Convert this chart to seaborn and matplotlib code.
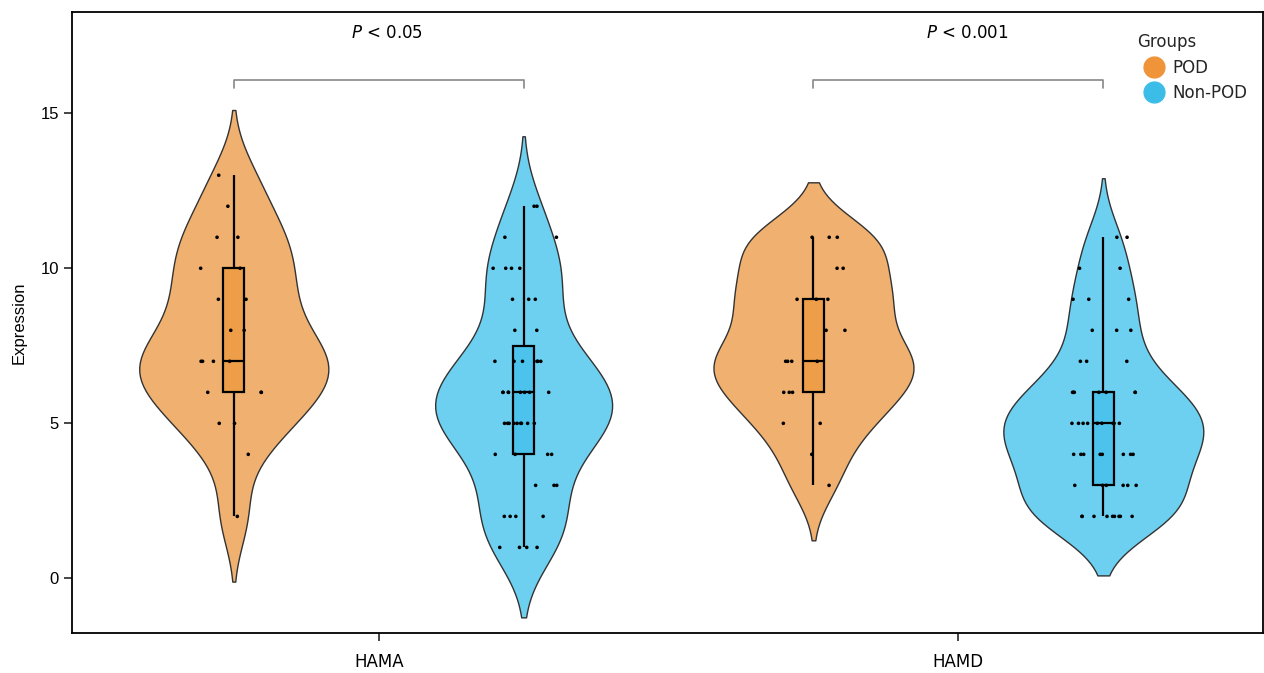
import numpy as np
import pandas as pd
import seaborn as sns
import matplotlib.pyplot as plt
from matplotlib.lines import Line2D

hama_pod_levels = [2, 4, 5, 6, 7, 8, 9, 10, 11, 12, 13]
hama_pod_counts = [1, 1, 2, 3, 4, 2, 2, 2, 2, 1, 1]
hama_non_levels = [1, 2, 3, 4, 5, 6, 7, 8, 9, 10, 11, 12]
hama_non_counts = [4, 4, 3, 4, 9, 8, 6, 2, 3, 4, 2, 2]
hamd_pod_levels = [3, 4, 5, 6, 7, 8, 9, 10, 11]
hamd_pod_counts = [1, 1, 2, 3, 4, 2, 3, 2, 3]
hamd_non_levels = [2, 3, 4, 5, 6, 7, 8, 9, 10, 11]
hamd_non_counts = [9, 6, 8, 10, 7, 3, 3, 3, 2, 2]

scales = ["HAMA", "HAMD"]
groups = ["POD", "Non-POD"]
p_labels = ["< 0.05", "< 0.001"]

violin_colors = {"POD": "#F0B06F", "Non-POD": "#6DD0F0"}
box_colors = {"POD": "#EE9E48", "Non-POD": "#4CC3EC"}
legend_colors = ["#F0943A", "#3BBDE8"]

# build long table
rows = []
series = {
    ("HAMA", "POD"): (hama_pod_levels, hama_pod_counts),
    ("HAMA", "Non-POD"): (hama_non_levels, hama_non_counts),
    ("HAMD", "POD"): (hamd_pod_levels, hamd_pod_counts),
    ("HAMD", "Non-POD"): (hamd_non_levels, hamd_non_counts),
}
for (scale, grp), (lv, ct) in series.items():
    vals = np.repeat(lv, ct)
    pos = scales.index(scale) + (-0.25 if grp == "POD" else 0.25)
    for v in vals:
        rows.append({"scale": scale, "Groups": grp, "pos": pos, "Expression": float(v)})
df = pd.DataFrame(rows)

sns.set_style("white")
fig = plt.figure(figsize=(12.64, 6.73), dpi=100)
ax = fig.add_axes([0.057, 0.059, 0.942, 0.923])

sns.violinplot(data=df, x="pos", y="Expression", hue="Groups", hue_order=groups,
               palette=violin_colors, native_scale=True, dodge=False, width=0.69,
               bw_method=0.37, cut=2.05, inner=None, linecolor="#333333", linewidth=1,
               saturation=1, legend=False, ax=ax)
sns.boxplot(data=df, x="pos", y="Expression", hue="Groups", hue_order=groups,
            palette=box_colors, native_scale=True, dodge=False, width=0.072,
            whis=(0, 100), showfliers=False, showcaps=False, linecolor="black",
            linewidth=1.6, saturation=1, legend=False, ax=ax)
np.random.seed(3)
sns.stripplot(data=df, x="pos", y="Expression", hue="Groups", hue_order=groups,
              palette={"POD": "black", "Non-POD": "black"}, native_scale=True,
              dodge=False, jitter=0.12, size=2.6, linewidth=0, legend=False, ax=ax)

ax.set_xlim(-0.529, 1.525)
ax.set_ylim(-1.77, 18.26)
ax.set_xticks([0, 1])
ax.set_xticklabels(scales, fontsize=12, family="DejaVu Sans", color="black")
ax.set_yticks([0, 5, 10, 15])
ax.tick_params(axis="y", labelsize=12, length=6, width=1.2, direction="out",
               left=True, labelcolor="black")
ax.tick_params(axis="x", length=6, width=1.2, direction="out", bottom=True, pad=8)
for lab in ax.get_yticklabels():
    lab.set_family("Liberation Sans")
ax.set_xlabel("")
ax.set_ylabel("Expression", fontsize=12, family="Liberation Sans", color="black",
              labelpad=10)
for s in ax.spines.values():
    s.set_color("black")
    s.set_linewidth(1.3)

# significance brackets
for i, lab in enumerate(p_labels):
    x0, x1 = i - 0.25, i + 0.25
    ax.plot([x0, x0, x1, x1], [15.8, 16.06, 16.06, 15.8], color="#888888", lw=1.2)
    ax.text(i + 0.015, 17.6, r"$\it{P}$ " + lab, ha="center", va="center",
            fontsize=12, family="DejaVu Sans", color="black")

handles = [Line2D([], [], marker="o", ls="", markersize=15, color=c) for c in legend_colors]
leg = ax.legend(handles, groups, title="Groups", loc="upper right", frameon=False,
                fontsize=12, title_fontsize=12, handletextpad=0.15,
                bbox_to_anchor=(1.0, 0.99), labelspacing=0.45)
leg._legend_box.align = "left"

fig.savefig("out.png", dpi=100)
